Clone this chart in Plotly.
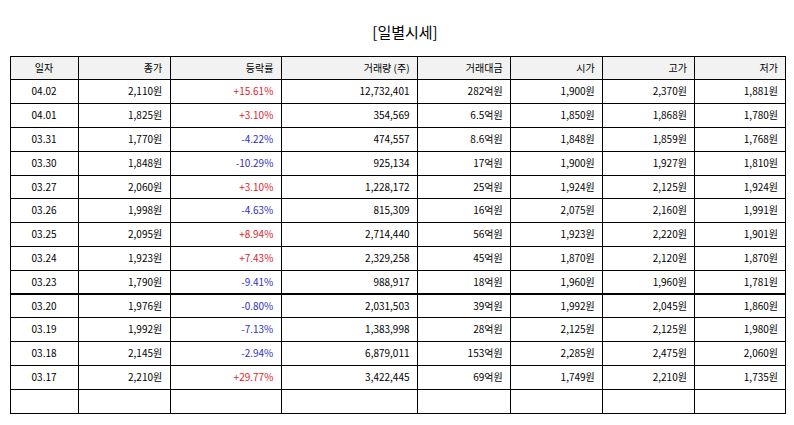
import plotly.graph_objects as go

dates = ["04.02", "04.01", "03.31", "03.30", "03.27", "03.26", "03.25", "03.24", "03.23", "03.20", "03.19", "03.18", "03.17"]
close = [2110, 1825, 1770, 1848, 2060, 1998, 2095, 1923, 1790, 1976, 1992, 2145, 2210]
change = [15.61, 3.10, -4.22, -10.29, 3.10, -4.63, 8.94, 7.43, -9.41, -0.80, -7.13, -2.94, 29.77]
volume = [12732401, 354569, 474557, 925134, 1228172, 815309, 2714440, 2329258, 988917, 2031503, 1383998, 6879011, 3422445]
amount = ["282억원", "6.5억원", "8.6억원", "17억원", "25억원", "16억원", "56억원", "45억원", "18억원", "39억원", "28억원", "153억원", "69억원"]
open_ = [1900, 1850, 1848, 1900, 1924, 2075, 1923, 1870, 1960, 1992, 2125, 2285, 1749]
high = [2370, 1868, 1859, 1927, 2125, 2160, 2220, 2120, 1960, 2045, 2125, 2475, 2210]
low = [1881, 1780, 1768, 1810, 1924, 1991, 1901, 1870, 1781, 1860, 1980, 2060, 1735]
headers = ["일자", "종가", "등락률", "거래량 (주)", "거래대금", "시가", "고가", "저가"]

won = lambda v: [f"{x:,}원" for x in v] + [""]
cols = [
    dates + [""],
    won(close),
    [f"{c:+.2f}%" for c in change] + [""],
    [f"{x:,}" for x in volume] + [""],
    amount + [""],
    won(open_),
    won(high),
    won(low),
]
chg_colors = ["#e0242c" if c > 0 else "#3030c8" for c in change] + ["black"]
font_colors = ["black", "black", chg_colors] + ["black"] * 5

fig = go.Figure(go.Table(
    columnwidth=[68, 92, 111, 136, 93, 92, 92, 91],
    header=dict(values=headers, fill_color="#f2f2f2", line=dict(color="black", width=1),
                align=["center"] + ["right"] * 7, height=23.8,
                font=dict(family="Noto Sans CJK KR", size=10, color="black")),
    cells=dict(values=cols, fill_color="white", line=dict(color="black", width=1),
               align=["center"] + ["right"] * 7, height=23.8,
               font=dict(family="Noto Sans CJK KR", size=10, color=font_colors)),
    domain=dict(x=[2 / 794, 778 / 794], y=[0, 377 / 425]),
))
fig.update_layout(
    width=794, height=425, paper_bgcolor="white",
    margin=dict(l=0, r=0, t=0, b=0),
    title=dict(text="[일별시세]", x=0.5, y=0.955, xanchor="center",
               font=dict(family="Noto Sans CJK KR", size=15, color="black")),
)
fig.write_html("out.html")
